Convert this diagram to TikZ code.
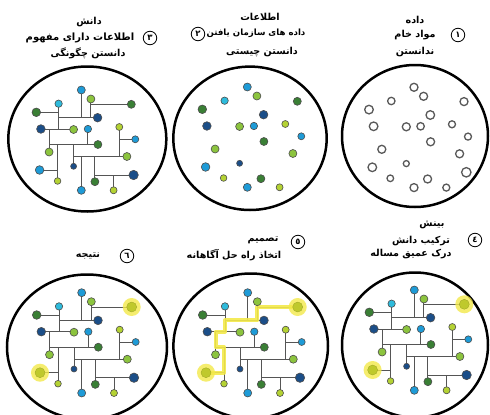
\documentclass[tikz,border=0pt]{standalone}
\usepackage{fontspec}
\newfontfamily\fa[Script=Arabic]{DejaVu Sans}
\TeXXeTstate=1
\definecolor{cBlue}{HTML}{1E9BD7}
\definecolor{cCyan}{HTML}{2EBBDC}
\definecolor{cLgreen}{HTML}{8CC43E}
\definecolor{cYgreen}{HTML}{B4D233}
\definecolor{cDgreen}{HTML}{3A7F35}
\definecolor{cNavy}{HTML}{1B4E88}
\definecolor{cGlow}{HTML}{F3E94A}
\definecolor{cHi}{HTML}{BFC92C}
\definecolor{cWire}{HTML}{555555}
\tikzset{
  ring/.style={draw=black,line width=2.5pt},
  wire/.style={draw=cWire,line width=0.9pt},
  hipath/.style={draw=cGlow,line width=4pt,opacity=0.9,line join=round},
  dotbase/.style={circle,inner sep=0pt,draw=black!70,line width=0.6pt},
  opendot/.style={fill=white,draw=black!65,line width=1.3pt},
  label/.style={font=\fa\bfseries\fontsize{9.6}{11}\selectfont,inner sep=0pt},
  numc/.style={circle,draw=black,line width=0.8pt,minimum size=13.5pt,inner sep=0pt,font=\fa\bfseries\fontsize{8.5}{9}\selectfont},
  netpts/.pic={
    \coordinate (-p1) at (-6.3,-49);
    \coordinate (-p2) at (3.3,-40);
    \coordinate (-p3) at (43.7,-34.7);
    \coordinate (-p4) at (-29,-35.3);
    \coordinate (-p5) at (-51.3,-26.7);
    \coordinate (-p6) at (10,-21.3);
    \coordinate (-p7) at (-46.7,-10);
    \coordinate (-p8) at (-14,-9.5);
    \coordinate (-p9) at (0.3,-10);
    \coordinate (-p10) at (31.7,-12);
    \coordinate (-p11) at (47.7,0.3);
    \coordinate (-p12) at (10.3,5.5);
    \coordinate (-p13) at (-38.5,13);
    \coordinate (-p14) at (39.3,17.5);
    \coordinate (-p15) at (-48,31);
    \coordinate (-p16) at (-14,27.3);
    \coordinate (-p17) at (46,36);
    \coordinate (-p18) at (7.3,42.7);
    \coordinate (-p19) at (-30,42);
    \coordinate (-p20) at (-6.3,51.3);
    \coordinate (-p21) at (26,51.3);
  }
}
\newcommand\netlines[1]{%
  \draw[wire] (#1-p1) -- (#1-p1 |- #1-p6);
  \draw[wire] (#1-p2) -- (#1-p2 |- #1-p6);
  \draw[wire] (#1-p2 |- #1-p3) -- (#1-p3);
  \draw[wire] (#1-p4 |- #1-p6) -- (#1-p6);
  \draw[wire] (#1-p4) -- (#1-p4 |- #1-p7);
  \draw[wire] (#1-p5) -- (#1-p5 -| #1-p4);
  \draw[wire] (#1-p7) -- (#1-p7 -| #1-p8);
  \draw[wire] (#1-p13 |- #1-p7) -- (#1-p13);
  \draw[wire] (#1-p13 |- #1-p12) -- (#1-p12);
  \draw[wire] (#1-p9) -- (#1-p9 |- #1-p12);
  \draw[wire] (#1-p10) -- (#1-p10 |- #1-p14);
  \draw[wire] (#1-p11) -- (#1-p11 -| #1-p10);
  \draw[wire] (#1-p16 |- #1-p14) -- (#1-p14);
  \draw[wire] (#1-p16) -- (#1-p16 |- #1-p12);
  \draw[wire] (#1-p19) -- (#1-p19 |- #1-p12);
  \draw[wire] (#1-p15) -- (#1-p15 -| #1-p19);
  \draw[wire] (#1-p20) -- (#1-p20 |- #1-p14);
  \draw[wire] (#1-p18) -- (#1-p18 |- #1-p14);
  \draw[wire] (#1-p18 |- #1-p17) -- (#1-p17);
  \draw[wire] (#1-p21) -- (#1-p21 |- #1-p17);
}
\newcommand\nd[5]{\node[dotbase,fill=#3,minimum size=#4pt,#5] (#1-n#2) at (#1-p#2) {};}
\newcommand\netdots[2]{%
  \nd{#1}{1}{cBlue}{8}{#2}
  \nd{#1}{2}{cLgreen}{8}{#2}
  \nd{#1}{4}{cCyan}{7.4}{#2}
  \nd{#1}{5}{cDgreen}{8.6}{#2}
  \nd{#1}{6}{cNavy}{8.6}{#2}
  \nd{#1}{7}{cNavy}{8.6}{#2}
  \nd{#1}{8}{cLgreen}{8}{#2}
  \nd{#1}{9}{cBlue}{7.4}{#2}
  \nd{#1}{10}{cYgreen}{7}{#2}
  \nd{#1}{11}{cBlue}{7}{#2}
  \nd{#1}{12}{cDgreen}{8}{#2}
  \nd{#1}{13}{cLgreen}{8}{#2}
  \nd{#1}{14}{cLgreen}{8}{#2}
  \nd{#1}{16}{cNavy}{6}{#2}
  \nd{#1}{18}{cDgreen}{8}{#2}
  \nd{#1}{19}{cYgreen}{6.6}{#2}
  \nd{#1}{20}{cBlue}{8}{#2}
  \nd{#1}{21}{cYgreen}{7}{#2}
}
\newcommand\hidot[2]{%
  \fill[cGlow,opacity=0.8] (#1-p#2) circle (9);
  \node[circle,inner sep=0pt,minimum size=10pt,fill=cHi,draw=cHi!80!black,line width=0.3pt] (#1-n#2) at (#1-p#2) {};
}
\newcommand\hipathdraw[1]{%
  \draw[hipath] (#1-p15) -- (#1-p15 -| #1-p19) -- (#1-p19 |- #1-p12) -- (#1-p13 |- #1-p12)
    -- (#1-p13 |- #1-p7) -- (#1-p4 |- #1-p7) -- (#1-p4 |- #1-p6) -- (#1-p2 |- #1-p6)
    -- (#1-p2 |- #1-p3) -- (#1-p3);
}
\begin{document}
\begin{tikzpicture}[x=1pt,y=-1pt]
\useasboundingbox (0,0) rectangle (490,415);
\fill[white] (0,0) rectangle (490,415);
\clip (0,0) rectangle (490,415);

% circles
\draw[ring] (87.3,139) ellipse [x radius=79,y radius=72.5];
\draw[ring] (250,138.3) ellipse [x radius=76.7,y radius=71.7];
\draw[ring] (415,136) ellipse [x radius=73,y radius=71];
\draw[ring] (87,347) ellipse [x radius=80,y radius=72.5];
\draw[ring] (250.7,346) ellipse [x radius=77.3,y radius=72.5];
\draw[ring] (415,345) ellipse [x radius=73,y radius=72.5];

% pattern anchors
\pic (tl) at (87.6,139) {netpts};
\pic (tm) at (253.6,136) {netpts};
\pic (tr) at (420.3,136.3) {netpts};
\pic (bl) at (88,341.7) {netpts};
\pic (bm) at (254,341.7) {netpts};
\pic (br) at (420.6,339) {netpts};

% 1: raw data (open circles)
\netdots{tr}{opendot}
\nd{tr}{3}{white}{8}{opendot}
\nd{tr}{15}{white}{8.6}{opendot}
\nd{tr}{17}{white}{9.4}{opendot}

% 2: information (coloured dots)
\netdots{tm}{}
\nd{tm}{3}{cDgreen}{8}{}
\nd{tm}{15}{cBlue}{8.6}{}

% 3: knowledge (network)
\netlines{tl}
\netdots{tl}{}
\nd{tl}{3}{cDgreen}{8}{}
\nd{tl}{15}{cBlue}{8.6}{}
\nd{tl}{17}{cNavy}{9.4}{}

% 4: insight
\netlines{br}
\netdots{br}{}
\nd{br}{17}{cNavy}{9.4}{}
\hidot{br}{3}
\hidot{br}{15}

% 5: decision
\netlines{bm}
\hipathdraw{bm}
\netdots{bm}{}
\nd{bm}{17}{cNavy}{9.4}{}
\hidot{bm}{3}
\hidot{bm}{15}

% 6: result
\netlines{bl}
\netdots{bl}{}
\nd{bl}{17}{cNavy}{9.4}{}
\hidot{bl}{3}
\hidot{bl}{15}

% labels
\node[label] (t3a) at (89,22) {\beginR دانش\endR};
\node[label,font=\fa\bfseries\fontsize{10}{11}\selectfont] (t3b) at (80,38) {\beginR اطلاعات دارای مفهوم\endR};
\node[label] (t3c) at (88,53.5) {\beginR دانستن چگونگی\endR};
\node[numc] (c3) at (150,38) {٣};

\node[label] (t2a) at (260,17) {\beginR اطلاعات\endR};
\node[label,font=\fa\bfseries\fontsize{8.6}{10}\selectfont] (t2b) at (256,33.5) {\beginR داده های سازمان یافتن\endR};
\node[label] (t2c) at (262,52) {\beginR دانستن چیستی\endR};
\node[numc] (c2) at (198,34) {٢};

\node[label] (t1a) at (415,20) {\beginR داده\endR};
\node[label] (t1b) at (415,35.5) {\beginR مواد خام\endR};
\node[label] (t1c) at (415,52) {\beginR ندانستن\endR};
\node[numc] (c1) at (458,35) {١};

\node[label] (t4a) at (432,225) {\beginR بینش\endR};
\node[label] (t4b) at (421,241) {\beginR ترکیب دانش\endR};
\node[label] (t4c) at (411,254) {\beginR درک عمیق مساله\endR};
\node[numc] (c4) at (475,240) {٤};

\node[label] (t5a) at (263,240) {\beginR تصمیم\endR};
\node[label] (t5b) at (234,255) {\beginR اتخاذ راه حل آگاهانه\endR};
\node[numc] (c5) at (298,242) {٥};

\node[label] (t6a) at (88,256) {\beginR نتیجه\endR};
\node[numc] (c6) at (127,256) {٦};
\end{tikzpicture}
\end{document}
